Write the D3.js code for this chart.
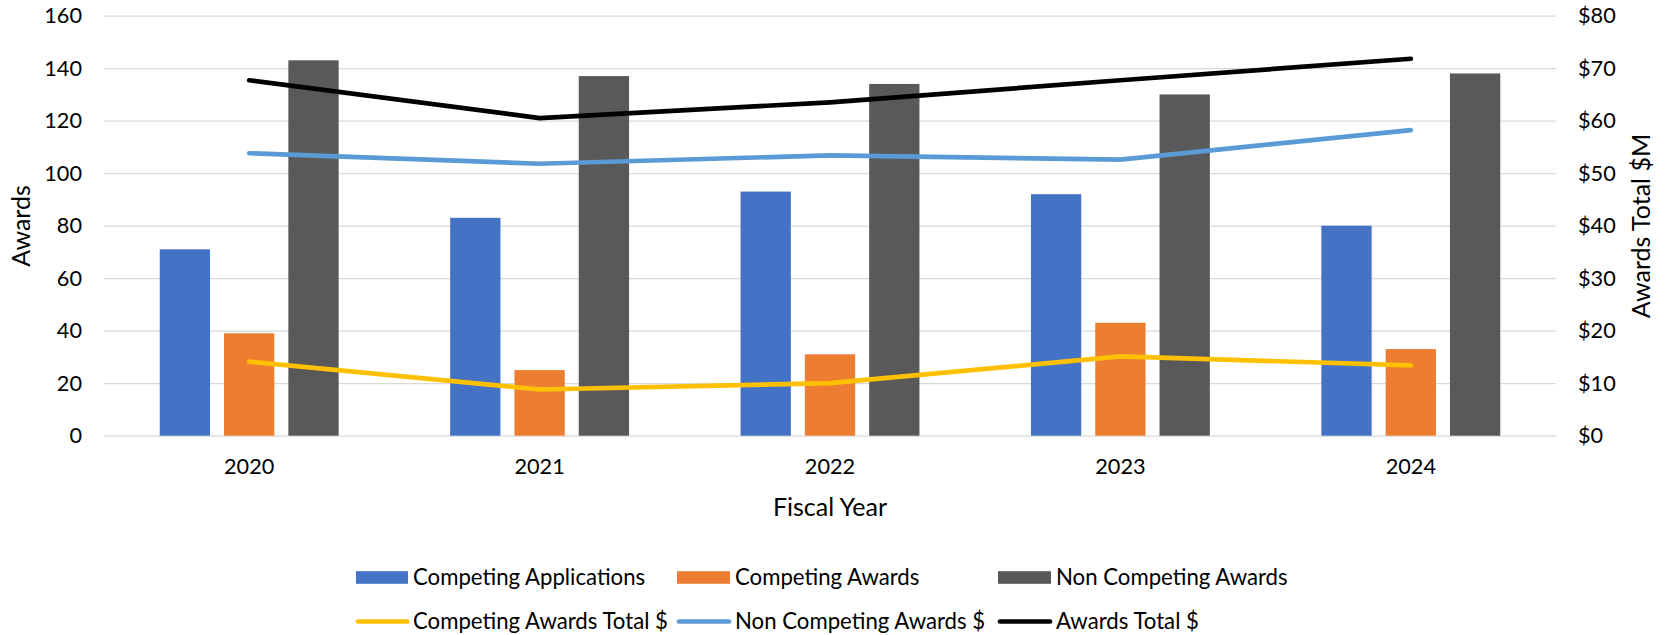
<!DOCTYPE html>
<html>
<head>
<meta charset="utf-8">
<script src="https://cdn.jsdelivr.net/npm/d3@7"></script>
<style>
  html, body { margin: 0; padding: 0; background: #fff; }
  svg { display: block; font-family: Lato, "Open Sans", sans-serif; }
</style>
</head>
<body>
<svg id="chart" width="1669" height="635"></svg>
<script>
const years = ["2020", "2021", "2022", "2023", "2024"];
const competingApplications = [71, 83, 93, 92, 80];
const competingAwards = [39, 25, 31, 43, 33];
const nonCompetingAwards = [143, 137, 134, 130, 138];
const competingAwardsTotal = [14.1, 8.8, 10.0, 15.1, 13.4];
const nonCompetingAwardsDollars = [53.8, 51.8, 53.4, 52.6, 58.2];
const awardsTotal = [67.7, 60.5, 63.5, 67.7, 71.8];
const leftTicks = [0, 20, 40, 60, 80, 100, 120, 140, 160];
const rightTicks = [0, 10, 20, 30, 40, 50, 60, 70, 80];

const barSeries = [
  { name: "Competing Applications", values: competingApplications, color: "#4472C4" },
  { name: "Competing Awards", values: competingAwards, color: "#ED7D31" },
  { name: "Non Competing Awards", values: nonCompetingAwards, color: "#595959" }
];
const lineSeries = [
  { name: "Competing Awards Total $", values: competingAwardsTotal, color: "#FFC000" },
  { name: "Non Competing Awards $", values: nonCompetingAwardsDollars, color: "#5B9BD5" },
  { name: "Awards Total $", values: awardsTotal, color: "#000000" }
];

const svg = d3.select("#chart");
const plot = { left: 104, right: 1556, top: 15.7, bottom: 435.7 };
const tickFont = 21.7, legendFont = 22.2, titleFont = 25;

const x = d3.scaleBand().domain(years).range([plot.left, plot.right]).paddingInner(0).paddingOuter(0);
const groupMargin = 55.75;
const xInner = d3.scaleBand().domain(barSeries.map(d => d.name))
  .range([groupMargin, x.bandwidth() - groupMargin]).paddingInner(0.2177).paddingOuter(0);
const yL = d3.scaleLinear().domain([0, 160]).range([plot.bottom, plot.top]);
const yR = d3.scaleLinear().domain([0, 80]).range([plot.bottom, plot.top]);

// gridlines
const grid = svg.append("g").attr("transform", `translate(${plot.left},0)`)
  .call(d3.axisLeft(yL).tickValues(leftTicks).tickSize(-(plot.right - plot.left)).tickFormat(""));
grid.select(".domain").remove();
grid.selectAll("line").attr("stroke", "#D9D9D9").attr("stroke-width", 1.3);

// left axis labels
const axL = svg.append("g").attr("transform", `translate(${plot.left - 22},0)`)
  .call(d3.axisLeft(yL).tickValues(leftTicks).tickSize(0).tickPadding(0));
axL.select(".domain").remove();
axL.selectAll("text").attr("font-size", tickFont).attr("fill", "#000").attr("font-family", "Lato");

// right axis labels
const axR = svg.append("g").attr("transform", `translate(${plot.right + 22},0)`)
  .call(d3.axisRight(yR).tickValues(rightTicks).tickSize(0).tickPadding(0).tickFormat(d => "$" + d));
axR.select(".domain").remove();
axR.selectAll("text").attr("font-size", tickFont).attr("fill", "#000").attr("font-family", "Lato");

// x axis labels
const axX = svg.append("g").attr("transform", `translate(0,${plot.bottom + 22.5})`)
  .call(d3.axisBottom(x).tickSize(0).tickPadding(0));
axX.select(".domain").remove();
axX.selectAll("text").attr("font-size", tickFont).attr("fill", "#000").attr("font-family", "Lato");

// bars
const groups = svg.append("g").selectAll("g").data(years).join("g")
  .attr("transform", d => `translate(${x(d)},0)`);
groups.selectAll("rect").data((d, i) => barSeries.map(s => ({ s, v: s.values[i] }))).join("rect")
  .attr("x", d => xInner(d.s.name))
  .attr("width", xInner.bandwidth())
  .attr("y", d => yL(d.v))
  .attr("height", d => yL(0) - yL(d.v))
  .attr("fill", d => d.s.color);

// lines
const line = d3.line().x((d, i) => x(years[i]) + x.bandwidth() / 2).y(d => yR(d));
svg.append("g").selectAll("path").data(lineSeries).join("path")
  .attr("d", d => line(d.values))
  .attr("fill", "none")
  .attr("stroke", d => d.color)
  .attr("stroke-width", 4.7)
  .attr("stroke-linecap", "round")
  .attr("stroke-linejoin", "round");

// axis titles
svg.append("text").attr("transform", `translate(21.7,226) rotate(-90)`)
  .attr("text-anchor", "middle").attr("dy", "0.35em").attr("font-size", titleFont).attr("fill", "#000").text("Awards");
svg.append("text").attr("transform", `translate(1641,226) rotate(-90)`)
  .attr("text-anchor", "middle").attr("dy", "0.35em").attr("font-size", titleFont).attr("fill", "#000").text("Awards Total $M");
svg.append("text").attr("x", (plot.left + plot.right) / 2).attr("y", 507)
  .attr("text-anchor", "middle").attr("dy", "0.35em").attr("font-size", titleFont).attr("fill", "#000").text("Fiscal Year");

// legend
const colX = [356, 677, 998];
const textX = [413, 735, 1056];
const rowY = [577.5, 621.5];
barSeries.forEach((s, i) => {
  svg.append("rect").attr("x", colX[i]).attr("y", rowY[0] - 6.3).attr("width", textX[i] - 5 - colX[i]).attr("height", 12.6).attr("fill", s.color);
  svg.append("text").attr("x", textX[i]).attr("y", rowY[0]).attr("dy", "0.35em")
    .attr("font-size", legendFont).attr("fill", "#000").text(s.name);
});
lineSeries.forEach((s, i) => {
  svg.append("line").attr("x1", colX[i] + 2).attr("x2", textX[i] - 6).attr("y1", rowY[1]).attr("y2", rowY[1])
    .attr("stroke", s.color).attr("stroke-width", 4.7).attr("stroke-linecap", "round");
  svg.append("text").attr("x", textX[i]).attr("y", rowY[1]).attr("dy", "0.35em")
    .attr("font-size", legendFont).attr("fill", "#000").text(s.name);
});
</script>
</body>
</html>
